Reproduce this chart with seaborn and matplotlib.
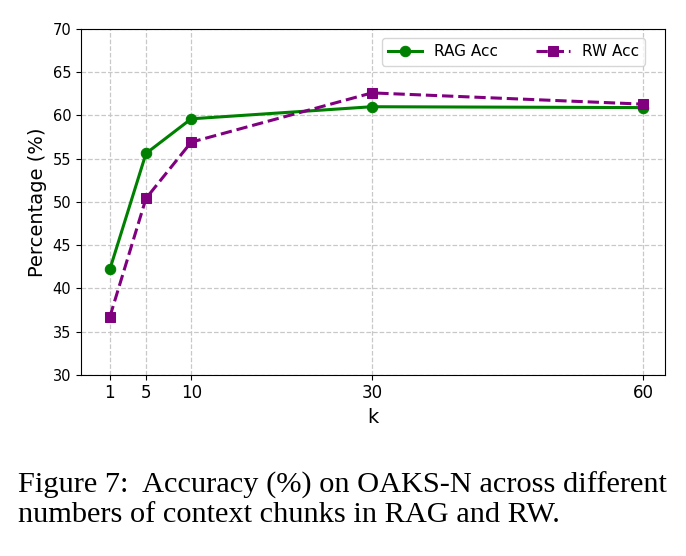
import matplotlib
matplotlib.use("Agg")
import matplotlib.pyplot as plt
import seaborn as sns
import pandas as pd

k_values = [1, 5, 10, 30, 60]
rag_acc = [42.2, 55.6, 59.6, 61.0, 60.9]
rw_acc = [36.7, 50.4, 56.9, 62.6, 61.3]
y_ticks = [30, 35, 40, 45, 50, 55, 60, 65, 70]
caption_lines = ["Figure 7:  Accuracy (%) on OAKS-N across different",
                 "numbers of context chunks in RAG and RW."]

df = pd.DataFrame({
    "k": k_values * 2,
    "value": rag_acc + rw_acc,
    "series": ["RAG Acc"] * len(k_values) + ["RW Acc"] * len(k_values),
})

fig = plt.figure(figsize=(6.86, 5.56), dpi=100)
ax = fig.add_axes([0.118, 0.326, 0.851, 0.622])

sns.lineplot(data=df[df.series == "RAG Acc"], x="k", y="value", ax=ax,
             color="green", marker="o", markersize=7.5, linewidth=2.2,
             markeredgecolor="green", label="RAG Acc")
sns.lineplot(data=df[df.series == "RW Acc"], x="k", y="value", ax=ax,
             color="purple", marker="s", markersize=7.5, linewidth=2.2,
             markeredgecolor="purple", linestyle="--", label="RW Acc")

ax.set_xlim(-2.2, 62.4)
ax.set_ylim(30, 70)
ax.set_xticks(k_values)
ax.set_xticklabels([str(v) for v in k_values], fontsize=12)
ax.set_yticks(y_ticks)
ax.tick_params(axis="y", labelsize=10.5)
ax.grid(True, linestyle="--", color="#c8c8c8", linewidth=0.9)
ax.set_xlabel("k", fontsize=14)
ax.set_ylabel("Percentage (%)", fontsize=14)
ax.legend(loc="upper right", bbox_to_anchor=(0.98, 0.995), ncol=2, fontsize=11,
          frameon=True, columnspacing=2.5, handlelength=2.2)

fig.text(0.026, 1 - 493 / 556, caption_lines[0], fontsize=21.9,
         family="Liberation Serif", ha="left", va="baseline")
fig.text(0.026, 1 - 522 / 556, caption_lines[1], fontsize=21.9,
         family="Liberation Serif", ha="left", va="baseline")

fig.savefig("out.png", dpi=100)
